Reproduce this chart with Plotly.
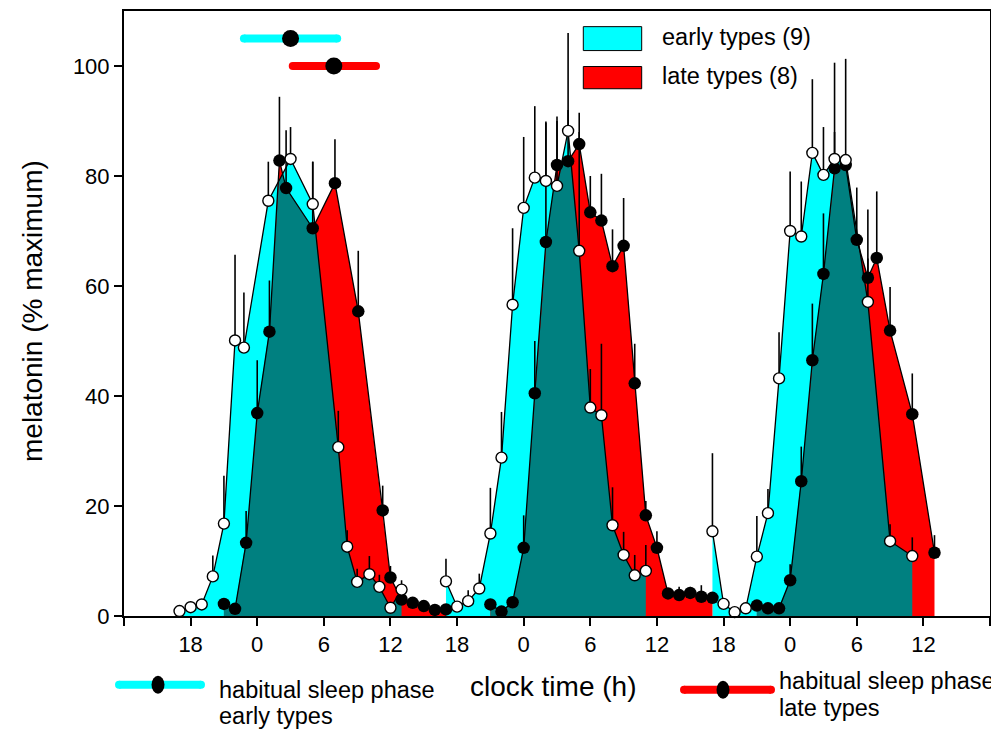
import numpy as np
import plotly.graph_objects as go

# ---------------- data (clock time in hours, 0 = midnight of first night) -------------
# early types (open circles), three nights
early_t = [
    [-7, -6, -5, -4, -3, -2, -1.2, 1, 3, 5, 7.3, 8.1, 9, 10.1, 11, 12, 13],
    [17, 18, 19, 20, 21, 22, 23, 24, 25, 26, 27, 28, 29, 30, 31, 32, 33, 34, 35],
    [41, 42, 43, 44, 45, 46, 47, 48, 49, 50, 51, 52, 53, 55, 57, 59],
]
early_y = [
    [0.9, 1.6, 2.1, 7.2, 16.8, 50.1, 48.8, 75.5, 83.1, 74.9, 30.7, 12.6, 6.2, 7.6, 5.3, 1.5, 4.8],
    [6.3, 1.7, 2.7, 5.0, 15.0, 28.8, 56.6, 74.2, 79.7, 79.1, 78.2, 88.2, 66.4, 37.9, 36.5, 16.5, 11.1, 7.4, 8.2],
    [15.4, 2.2, 0.7, 1.4, 10.8, 18.7, 43.2, 70.0, 69.0, 84.2, 80.2, 83.1, 82.9, 57.1, 13.6, 10.9],
]
# upper end of error bars (mean + SEM); None = not visible
early_top = [
    [None, None, None, 11.0, 25.5, 65.7, 58.8, 82.6, 88.9, 82.6, 37.3, 15.6, 8.6, 10.9, 7.5, None, 6.5],
    [10.4, None, 4.7, 7.7, 23.3, 37.1, 70.5, 87.1, 92.7, 89.9, 90.0, 106.0, 88.0, 44.9, 49.5, 23.4, 15.3, 11.1, 12.9],
    [29.6, None, None, None, 18.2, 23.1, 51.6, 80.8, 79.0, 97.6, 88.9, 100.6, 101.3, 65.0, 16.7, 14.3],
]

# late types (filled circles), three nights
late_t = [
    [-3, -2, -1, 0, 1.1, 2, 2.6, 5, 7, 9.1, 11.3, 12, 13, 14, 15, 16, 17],
    [21, 22, 23, 24, 25, 26, 27, 28, 29, 30, 31, 32, 33, 34, 35, 36, 37, 38, 39, 40, 41],
    [45, 46, 47, 48, 49, 50, 51, 52, 53, 54, 55, 55.8, 57, 59, 61],
]
late_y = [
    [2.2, 1.3, 13.3, 36.9, 51.7, 82.8, 77.8, 70.5, 78.7, 55.4, 19.2, 7.0, 3.0, 2.4, 1.8, 1.1, 1.2],
    [2.1, 0.8, 2.5, 12.4, 40.5, 68.0, 82.0, 82.7, 85.8, 73.4, 71.9, 63.6, 67.3, 42.3, 18.3, 12.4, 4.1, 3.8, 4.2, 3.5, 3.3],
    [1.9, 1.4, 1.4, 6.5, 24.5, 46.5, 62.2, 81.4, 82.0, 68.4, 61.5, 65.1, 51.9, 36.7, 11.5],
]
late_top = [
    [None, None, 19.1, 46.5, 61.0, 94.4, 88.3, 82.6, 86.7, 66.4, 23.7, 9.1, None, None, None, None, None],
    [None, None, None, 18.3, 50.0, 89.7, 90.8, 92.0, 91.5, 80.0, 80.4, 70.3, 76.0, 49.5, 20.9, 15.4, None, 5.3, 5.3, 5.6, None],
    [None, None, None, 9.4, 30.8, 56.8, 73.2, 88.0, None, 77.9, 73.9, 77.2, 59.8, 44.1, 14.7],
]

# habitual sleep phase (start, mid, end) and plotting level
sleep_early = [-1.2, 3.0, 7.2]
sleep_late = [3.2, 6.9, 10.7]
sleep_level = [105, 100]

tick_vals = [-12, -6, 0, 6, 12, 18, 24, 30, 36, 42, 48, 54, 60, 66]
tick_text = ["", "18", "0", "6", "12", "18", "0", "6", "12", "18", "0", "6", "12", ""]
y_ticks = [0, 20, 40, 60, 80, 100]

CYAN = "#00FFFF"
RED = "#FF0000"
TEAL = "#008080"
FONT = "Liberation Sans, Arial, sans-serif"

# ---------------- layout helpers (window pixel positions -> paper) ----------------
OFF = 8                      # page body margin of the html page
W, H = 999 - OFF, 729 - OFF
L, R, T, B = 124, 990, 9, 616  # plot area in window pixels


def px(x):
    return (x - L) / (R - L)


def py(y):
    return (B - y) / (B - T)


fig = go.Figure()


def area(xs, ys, color):
    fig.add_trace(go.Scatter(
        x=[xs[0]] + list(xs) + [xs[-1]], y=[0] + list(ys) + [0],
        fill="toself", fillcolor=color, mode="lines", line=dict(width=0),
        hoverinfo="skip", showlegend=False))


for tx, yy in zip(early_t, early_y):
    area(tx, yy, CYAN)
for tx, yy in zip(late_t, late_y):
    area(tx, yy, RED)

# overlap (intersection of the two areas)
for te, ye, tl, yl in zip(early_t, early_y, late_t, late_y):
    a = max(te[0], tl[0])
    b = min(te[-1], tl[-1])
    if b <= a:
        continue
    grid = np.unique(np.concatenate([np.linspace(a, b, 2000),
                                     [v for v in te if a <= v <= b],
                                     [v for v in tl if a <= v <= b]]))
    m = np.minimum(np.interp(grid, te, ye), np.interp(grid, tl, yl))
    area(grid, m, TEAL)


def series(tx, yy, tops, filled):
    plus = [0 if t is None else t - v for t, v in zip(tops, yy)]
    fig.add_trace(go.Scatter(
        x=tx, y=yy, mode="lines+markers",
        line=dict(color="black", width=1.3),
        marker=dict(size=12.5 if filled else 11,
                    color="black" if filled else "white",
                    line=dict(color="black", width=0 if filled else 1.4)),
        error_y=dict(type="data", symmetric=False, array=plus,
                     arrayminus=[0] * len(plus), color="black",
                     thickness=1.6, width=0),
        cliponaxis=False, showlegend=False, hoverinfo="x+y"))


for tx, yy, tp in zip(late_t, late_y, late_top):
    series(tx, yy, tp, True)
for tx, yy, tp in zip(early_t, early_y, early_top):
    series(tx, yy, tp, False)

# habitual sleep phase bars
for sp, lvl, col in [(sleep_early, sleep_level[0], CYAN), (sleep_late, sleep_level[1], RED)]:
    fig.add_trace(go.Scatter(
        x=[sp[0], sp[2]], y=[lvl, lvl], mode="lines+markers",
        line=dict(color=col, width=8), marker=dict(size=8, color=col),
        cliponaxis=False, showlegend=False, hoverinfo="skip"))
    fig.add_trace(go.Scatter(
        x=[sp[1]], y=[lvl], mode="markers",
        marker=dict(size=17, color="black"),
        cliponaxis=False, showlegend=False, hoverinfo="skip"))

shapes = []
annotations = []

# legend boxes
for (y0, y1), col, label in [((26.7, 50.7), CYAN, "early types (9)"),
                             ((66.7, 89.0), RED, "late types (8)")]:
    shapes.append(dict(type="rect", xref="paper", yref="paper",
                       x0=px(583.3), x1=px(641.7), y0=py(y1 - 2), y1=py(y0 - 2),
                       fillcolor=col, line=dict(color="black", width=1)))
    annotations.append(dict(xref="paper", yref="paper", x=px(660), y=py((y0 + y1) / 2 - 4),
                            text=label, showarrow=False, xanchor="left", yanchor="middle",
                            font=dict(family=FONT, size=23.5, color="black")))

# bottom legend (habitual sleep phase)
for (x0, x1, xm, yc), col in [((115, 205, 158, 685), CYAN), ((680, 775, 723, 690), RED)]:
    shapes.append(dict(type="line", xref="paper", yref="paper",
                       x0=px(x0 + 4), x1=px(x1 - 4), y0=py(yc), y1=py(yc),
                       line=dict(color=col, width=8)))
    for xe in (x0 + 4, x1 - 4):
        shapes.append(dict(type="circle", xref="paper", yref="paper",
                           x0=px(xe - 4), x1=px(xe + 4), y0=py(yc + 4), y1=py(yc - 4),
                           fillcolor=col, line=dict(width=0)))
    shapes.append(dict(type="circle", xref="paper", yref="paper",
                       x0=px(xm - 6.5), x1=px(xm + 6.5), y0=py(yc + 9), y1=py(yc - 9),
                       fillcolor="black", line=dict(width=0)))

for txt, x, y in [("habitual sleep phase", 217, 690), ("early types", 217, 716),
                  ("habitual sleep phase", 777, 681), ("late types", 777, 708)]:
    annotations.append(dict(xref="paper", yref="paper", x=px(x), y=py(y), text=txt,
                            showarrow=False, xanchor="left", yanchor="middle",
                            font=dict(family=FONT, size=23.5, color="black")))

annotations.append(dict(xref="paper", yref="paper", x=px(553), y=py(687),
                        text="clock time (h)", showarrow=False, xanchor="center",
                        yanchor="middle", font=dict(family=FONT, size=28, color="black")))
annotations.append(dict(xref="paper", yref="paper", x=px(32), y=py(310),
                        text="melatonin (% maximum)", showarrow=False, textangle=-90,
                        xanchor="center", yanchor="middle",
                        font=dict(family=FONT, size=28, color="black")))

fig.update_layout(
    width=W, height=H,
    margin=dict(l=L - OFF, r=999 - R, t=T - OFF, b=729 - B),
    paper_bgcolor="white", plot_bgcolor="white",
    shapes=shapes, annotations=annotations,
    showlegend=False,
    xaxis=dict(range=[-12, 66], tickvals=tick_vals, ticktext=tick_text,
               ticks="outside", ticklen=8, tickwidth=2, tickcolor="black",
               showline=True, linewidth=2, linecolor="black", mirror=True,
               showgrid=False, zeroline=False,
               tickfont=dict(family=FONT, size=22, color="black")),
    yaxis=dict(range=[0, 110], tickvals=y_ticks,
               ticks="outside", ticklen=8, tickwidth=2, tickcolor="black",
               showline=True, linewidth=2, linecolor="black", mirror=True,
               showgrid=False, zeroline=False,
               tickfont=dict(family=FONT, size=22, color="black")),
)

fig.write_html("out.html")
